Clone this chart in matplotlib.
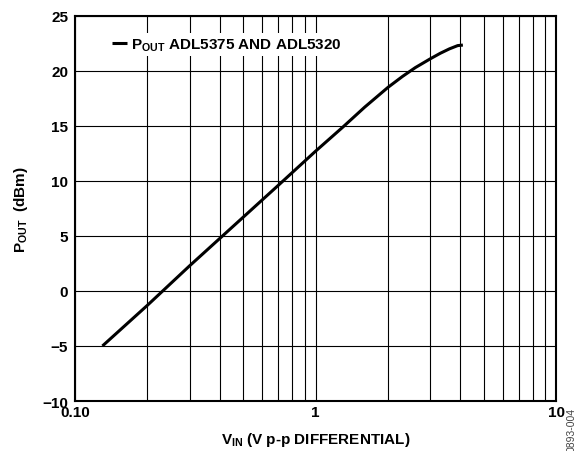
import numpy as np
import matplotlib
matplotlib.use("Agg")
import matplotlib.pyplot as plt
from matplotlib.ticker import FixedLocator, LogLocator, NullFormatter

plt.rcParams['font.family'] = 'Liberation Sans'
plt.rcParams['font.weight'] = 'bold'
plt.rcParams['mathtext.fontset'] = 'custom'
plt.rcParams['mathtext.rm'] = 'Liberation Sans:bold'
plt.rcParams['mathtext.it'] = 'Liberation Sans:bold'
plt.rcParams['mathtext.bf'] = 'Liberation Sans:bold'

# data
vin = [0.13, 0.2, 0.3, 0.5, 0.7, 1.0, 1.3, 1.6, 2.0, 2.3, 2.6, 3.0, 3.3, 3.6, 3.9, 4.1]
pout = [-5.0, -1.3, 2.3, 6.7, 9.6, 12.7, 14.9, 16.7, 18.5, 19.5, 20.3, 21.1, 21.6, 22.0, 22.3, 22.35]

x_ticks = [0.1, 1, 10]
x_labels = ['0.10', '1', '10']
y_ticks = [-10, -5, 0, 5, 10, 15, 20, 25]
y_labels = ['\u221210', '\u22125', '0', '5', '10', '15', '20', '25']

fig = plt.figure(figsize=(5.87, 4.52), dpi=100)
ax = fig.add_axes([0.1278, 0.1106, 0.8194, 0.852])

ax.plot(vin, pout, color='black', lw=2.2, solid_capstyle='butt', solid_joinstyle='round',
        label='$P_{OUT}$ ADL5375 AND ADL5320')

ax.set_xscale('log')
ax.set_xlim(0.1, 10)
ax.set_ylim(-10, 25)
ax.xaxis.set_major_locator(FixedLocator(x_ticks))
ax.set_xticklabels(x_labels)
ax.xaxis.set_minor_locator(LogLocator(base=10, subs=np.arange(2, 10)))
ax.xaxis.set_minor_formatter(NullFormatter())
ax.set_yticks(y_ticks)
ax.set_yticklabels(y_labels)

ax.grid(True, which='both', axis='x', color='black', lw=0.8)
ax.grid(True, which='major', axis='y', color='black', lw=0.8)
ax.set_axisbelow(True)
ax.tick_params(which='both', length=0, labelsize=11)
ax.tick_params(axis='x', pad=3)
ax.tick_params(axis='y', pad=5)
for s in ax.spines.values():
    s.set_linewidth(1.5)

ax.set_xlabel('$V_{IN}$ (V p-p DIFFERENTIAL)', fontsize=11, fontweight='bold', labelpad=8)
ax.set_ylabel('$P_{OUT}$  (dBm)', fontsize=11, fontweight='bold', labelpad=9)

leg = ax.legend(loc='upper left', bbox_to_anchor=(0.055, 0.975), fontsize=11,
                handlelength=1.0, handletextpad=0.25, borderpad=0.2,
                frameon=True, fancybox=False)
leg.get_frame().set_facecolor('white')
leg.get_frame().set_edgecolor('none')
leg.get_frame().set_alpha(1)

fig.text(0.973, 0.0, '0893-004', rotation=90, fontsize=7.5, fontweight='normal',
         ha='center', va='bottom', color='#444444')

fig.savefig('out.png', dpi=100)
